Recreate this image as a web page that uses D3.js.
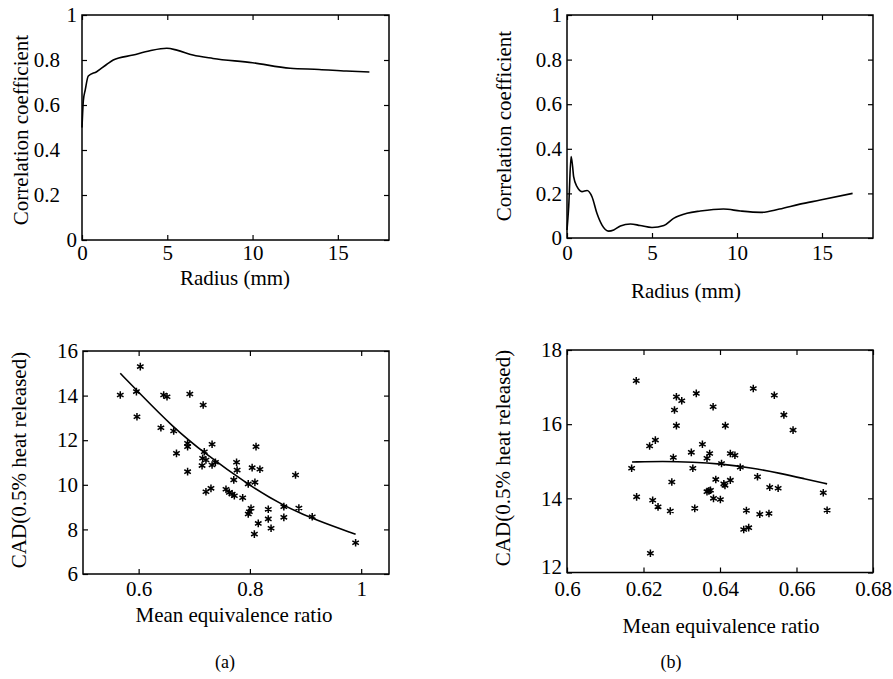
<!DOCTYPE html>
<html>
<head>
<meta charset="utf-8">
<script src="https://cdn.jsdelivr.net/npm/d3@7"></script>
<style>
  body { margin: 0; background: #fff; }
  svg text { font-family: "Liberation Serif", "Times New Roman", serif; fill: #000; }
</style>
</head>
<body>
<div id="chart"></div>
<script>
// ---- data ----

// (a) top: correlation coefficient vs radius
const radiusA = [0, 0.08, 0.19, 0.37, 0.86, 1.44, 1.83, 3.0, 3.98, 4.97, 5.56, 6.5, 7.68, 10.0, 12.2, 13.9, 15.5, 16.85];
const corrA   = [0.50, 0.62, 0.667, 0.729, 0.748, 0.78, 0.80, 0.822, 0.841, 0.852, 0.844, 0.822, 0.807, 0.788, 0.763, 0.758, 0.751, 0.747];

// (b) top
const radiusB = [0, 0.1, 0.24, 0.33, 0.39, 0.59, 0.88, 1.18, 1.47, 1.76, 2.06, 2.45, 2.75, 3.14, 3.73, 4.3, 5.0, 5.7, 6.27, 7.06, 7.84, 9.2, 10.2, 11.4, 12.5, 13.7, 14.9, 16.8];
const corrB   = [0.036, 0.14, 0.365, 0.32, 0.275, 0.23, 0.208, 0.213, 0.185, 0.111, 0.058, 0.031, 0.036, 0.054, 0.063, 0.056, 0.047, 0.056, 0.088, 0.111, 0.121, 0.13, 0.121, 0.115, 0.13, 0.152, 0.17, 0.2];

// (a) bottom: CAD vs mean equivalence ratio
const phiA = [0.603, 0.567, 0.596, 0.597, 0.645, 0.651, 0.692, 0.716, 0.640, 0.663, 0.688, 0.688, 0.668, 0.732, 0.718, 0.715, 0.721, 0.714, 0.738, 0.732, 0.688,
              0.811, 0.776, 0.777, 0.804, 0.818, 0.882, 0.771, 0.797, 0.809, 0.721, 0.730, 0.757, 0.763, 0.768, 0.772, 0.787, 0.802, 0.799, 0.797,
              0.833, 0.861, 0.888, 0.833, 0.861, 0.912, 0.815, 0.838, 0.808, 0.990];
const cadA = [15.30, 14.03, 14.18, 13.05, 14.03, 13.95, 14.07, 13.58, 12.56, 12.41, 11.86, 11.71, 11.41, 11.82, 11.48, 11.19, 11.11, 10.86, 11.01, 10.89, 10.59,
              11.71, 11.01, 10.66, 10.77, 10.70, 10.44, 10.22, 10.04, 10.11, 9.69, 9.84, 9.80, 9.66, 9.59, 9.51, 9.42, 8.95, 8.79, 8.69,
              8.90, 9.02, 8.96, 8.47, 8.54, 8.57, 8.27, 8.05, 7.79, 7.40];
const fitPhiA = [0.567, 0.6, 0.66, 0.72, 0.8, 0.86, 0.92, 0.99];
const fitCadA = [15.0, 14.15, 12.62, 11.38, 9.95, 9.06, 8.4, 7.78];

// (b) bottom
const phiB = [0.6181, 0.6169, 0.6182, 0.6216, 0.6231, 0.6218, 0.6224, 0.6238, 0.6270, 0.6274, 0.6278, 0.6281, 0.6286, 0.6286, 0.6300, 0.6325,
              0.6329, 0.6334, 0.6338, 0.6354, 0.6366, 0.6366, 0.6371, 0.6375, 0.6373, 0.6382, 0.6383, 0.6389, 0.6401, 0.6404, 0.6410, 0.6413,
              0.6414, 0.6427, 0.6427, 0.6439, 0.6453, 0.6462, 0.6475, 0.6469, 0.6487, 0.6498, 0.6504, 0.6528, 0.6530, 0.6542, 0.6552, 0.6567,
              0.6591, 0.6670, 0.6680];
const cadB = [17.17, 14.81, 14.04, 15.41, 15.57, 12.52, 13.95, 13.77, 13.66, 14.44, 15.10, 16.38, 16.74, 15.96, 16.63, 15.24,
              14.81, 13.73, 16.83, 15.46, 15.08, 14.18, 14.20, 14.22, 15.21, 16.47, 14.00, 14.51, 13.97, 14.94, 14.39, 14.35,
              15.96, 15.21, 14.49, 15.16, 14.84, 13.16, 13.21, 13.67, 16.96, 14.58, 13.57, 13.59, 14.30, 16.78, 14.27, 16.25,
              15.84, 14.15, 13.68];
const fitPhiB = [0.617, 0.625, 0.633, 0.64, 0.648, 0.656, 0.662, 0.668];
const fitCadB = [14.98, 15.0, 14.98, 14.93, 14.83, 14.67, 14.53, 14.39];

// tick labels
const radiusTicks = [0, 5, 10, 15];
const corrTicks = [0, 0.2, 0.4, 0.6, 0.8, 1];
const phiTicksA = [0.6, 0.8, 1];
const cadTicksA = [6, 8, 10, 12, 14, 16];
const phiTicksB = [0.6, 0.62, 0.64, 0.66, 0.68];
const cadTicksB = [12, 14, 16, 18];

const svg = d3.select("#chart").append("svg")
  .attr("width", 893)
  .attr("height", 679);

class Panel {
  constructor(o) {
    this.o = o;
    this.initVis();
  }

  initVis() {
    let vis = this, o = vis.o;
    vis.g = svg.append("g").attr("transform", `translate(${o.left},${o.top})`);

    vis.x = d3.scaleLinear().domain(o.xDomain).range([0, o.width]);
    vis.y = d3.scaleLinear().domain(o.yDomain).range([o.height, 0]);

    const fmt = d => String(d);
    const tk = 5;

    // bottom + left with labels, top + right mirrored, all ticks pointing inward
    vis.g.append("g").attr("transform", `translate(0,${o.height})`)
      .call(d3.axisBottom(vis.x).tickValues(o.xTicks).tickFormat(fmt).tickSizeInner(-tk).tickSizeOuter(0).tickPadding(o.xPad || 7));
    let yl = vis.g.append("g")
      .call(d3.axisLeft(vis.y).tickValues(o.yTicks).tickFormat(fmt).tickSizeInner(-tk).tickSizeOuter(0).tickPadding(5));
    vis.g.append("g")
      .call(d3.axisTop(vis.x).tickValues(o.xTicks).tickFormat("").tickSizeInner(-tk).tickSizeOuter(0));
    vis.g.append("g").attr("transform", `translate(${o.width},0)`)
      .call(d3.axisRight(vis.y).tickValues(o.yTicks).tickFormat("").tickSizeInner(-tk).tickSizeOuter(0));

    vis.g.selectAll(".domain").remove();
    vis.g.selectAll(".tick line").attr("stroke", "#000").attr("stroke-width", 1.2);
    vis.g.selectAll(".tick text")
      .attr("font-size", 21)
      .attr("font-family", '"Liberation Serif", "Times New Roman", serif');

    // the left panel of (a) has its decimal labels set further out
    if (o.decShift) {
      yl.selectAll(".tick text").filter(d => d % 1 !== 0).attr("x", -5 - o.decShift);
    }
    // lift the lowest y label a little so it clears the first x label
    if (o.lowShift) {
      yl.selectAll(".tick text").filter(d => d === o.yTicks[0]).attr("y", -o.lowShift);
    }

    vis.g.append("rect")
      .attr("width", o.width)
      .attr("height", o.height)
      .attr("fill", "none")
      .attr("stroke", "#000")
      .attr("stroke-width", 1.5);

    // axis titles
    svg.append("text")
      .attr("x", o.xLabelPos[0]).attr("y", o.xLabelPos[1])
      .attr("text-anchor", "middle")
      .attr("font-size", 21)
      .text(o.xLabel);

    svg.append("text")
      .attr("transform", `translate(${o.yLabelPos[0]},${o.yLabelPos[1]}) rotate(-90)`)
      .attr("text-anchor", "middle")
      .attr("font-size", 21)
      .text(o.yLabel);
  }

  drawLine(xs, ys, curve) {
    let vis = this;
    const line = d3.line()
      .x((d, i) => vis.x(xs[i]))
      .y((d, i) => vis.y(ys[i]))
      .curve(curve || d3.curveMonotoneX);
    vis.g.append("path")
      .datum(xs)
      .attr("d", line)
      .attr("fill", "none")
      .attr("stroke", "#000")
      .attr("stroke-width", 1.6);
  }

  drawStars(xs, ys) {
    let vis = this;
    const star = d3.symbol().type(d3.symbolAsterisk).size(40);
    vis.g.selectAll("path.star")
      .data(xs)
      .join("path")
      .attr("class", "star")
      .attr("transform", (d, i) => `translate(${vis.x(xs[i])},${vis.y(ys[i])})`)
      .attr("d", star)
      .attr("fill", "none")
      .attr("stroke", "#000")
      .attr("stroke-width", 1.5);
  }
}

let topA = new Panel({
  left: 82, top: 15, width: 307, height: 225,
  xDomain: [0, 18], yDomain: [0, 1],
  xTicks: radiusTicks, yTicks: corrTicks, decShift: 17, xPad: 5,
  xLabel: "Radius (mm)", xLabelPos: [235, 285],
  yLabel: "Correlation coefficient", yLabelPos: [28, 130]
});
topA.drawLine(radiusA, corrA);

let topB = new Panel({
  left: 567, top: 15, width: 306, height: 223,
  xDomain: [0, 18], yDomain: [0, 1],
  xTicks: radiusTicks, yTicks: corrTicks,
  xLabel: "Radius (mm)", xLabelPos: [686, 298],
  yLabel: "Correlation coefficient", yLabelPos: [511, 126]
});
topB.drawLine(radiusB, corrB);

let botA = new Panel({
  left: 83, top: 351, width: 306, height: 223,
  xDomain: [0.5, 1.05], yDomain: [6, 16],
  xTicks: phiTicksA, yTicks: cadTicksA,
  xLabel: "Mean equivalence ratio", xLabelPos: [234, 622],
  yLabel: "CAD(0.5% heat released)", yLabelPos: [26, 460]
});
botA.drawStars(phiA, cadA);
botA.drawLine(fitPhiA, fitCadA, d3.curveBasis);

let botB = new Panel({
  left: 567, top: 350, width: 306, height: 222.5,
  xDomain: [0.6, 0.68], yDomain: [12, 18],
  xTicks: phiTicksB, yTicks: cadTicksB, xPad: 9, lowShift: 6,
  xLabel: "Mean equivalence ratio", xLabelPos: [721, 633],
  yLabel: "CAD(0.5% heat released)", yLabelPos: [510, 458]
});
botB.drawStars(phiB, cadB);
botB.drawLine(fitPhiB, fitCadB, d3.curveBasis);

// sub-figure captions
svg.append("text").attr("x", 225).attr("y", 668).attr("text-anchor", "middle").attr("font-size", 18).text("(a)");
svg.append("text").attr("x", 671).attr("y", 668).attr("text-anchor", "middle").attr("font-size", 18).text("(b)");
</script>
</body>
</html>
